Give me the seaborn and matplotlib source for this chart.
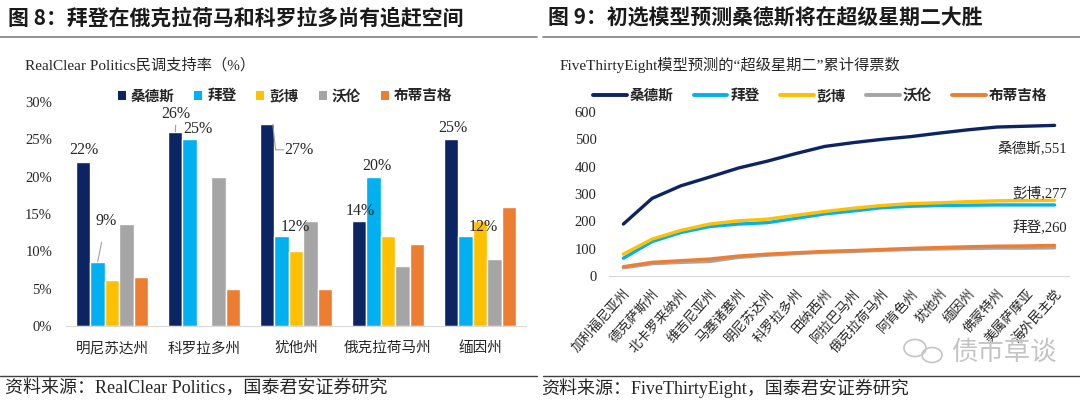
import numpy as np
import pandas as pd
import matplotlib
matplotlib.use('Agg')
import matplotlib.pyplot as plt
from matplotlib.lines import Line2D
from matplotlib.patches import Patch, Ellipse
import seaborn as sns

# ---- data: RealClear Politics polls (%) ----
poll_states = ['明尼苏达州', '科罗拉多州', '犹他州', '俄克拉荷马州', '缅因州']
candidates = ['桑德斯', '拜登', '彭博', '沃伦', '布蒂吉格']
sanders_poll = [22, 26, 27, 14, 25]
biden_poll = [8.6, 25, 12, 20, 12]
bloomberg_poll = [6.2, np.nan, 10, 12, 14]
warren_poll = [13.6, 20, 14, 8, 9]
buttigieg_poll = [6.6, 5, 5, 11, 16]

# ---- data: FiveThirtyEight cumulative delegates ----
vote_states = ['加利福尼亚州', '德克萨斯州', '北卡罗来纳州', '维吉尼亚州', '马塞诸塞州',
               '明尼苏达州', '科罗拉多州', '田纳西州', '阿拉巴马州', '俄克拉荷马州',
               '阿肯色州', '犹他州', '缅因州', '佛蒙特州', '美属萨摩亚', '海外民主党']
sanders_votes = [190, 284, 330, 362, 395, 420, 448, 474, 488, 500, 510, 523, 535, 545, 548, 551]
biden_votes = [65, 126, 159, 181, 190, 195, 211, 227, 238, 250, 255, 258, 259, 260, 260, 260]
bloomberg_votes = [80, 135, 167, 190, 202, 208, 222, 236, 248, 258, 265, 268, 272, 275, 276, 277]
warren_votes = [30, 45, 50, 53, 68, 76, 82, 87, 90, 94, 97, 99, 101, 102, 102, 103]
buttigieg_votes = [34, 50, 56, 62, 73, 80, 85, 90, 93, 97, 101, 104, 107, 109, 110, 112]

colors = ['#0c2461', '#00b0f0', '#ffc000', '#a5a5a5', '#ed7d31']

sns.set_style('white')
plt.rcParams['font.family'] = ['Liberation Serif', 'Noto Sans CJK SC']
CJK = ['Noto Sans CJK SC', 'DejaVu Sans']

poll = pd.DataFrame({'州': poll_states, '桑德斯': sanders_poll, '拜登': biden_poll,
                     '彭博': bloomberg_poll, '沃伦': warren_poll, '布蒂吉格': buttigieg_poll})
poll_long = poll.melt(id_vars='州', var_name='候选人', value_name='支持率').dropna()

votes = pd.DataFrame({'州': vote_states, '桑德斯': sanders_votes, '拜登': biden_votes,
                      '彭博': bloomberg_votes, '沃伦': warren_votes, '布蒂吉格': buttigieg_votes})
votes_long = votes.melt(id_vars='州', var_name='候选人', value_name='票数')

fig = plt.figure(figsize=(10.8, 4.05), dpi=100)

# ---------------- left: bar chart ----------------
ax1 = fig.add_axes([66 / 1080, 79 / 405, 460 / 1080, 224 / 405])
bar_w = 0.78
sns.barplot(data=poll_long, x='州', y='支持率', hue='候选人', order=poll_states,
            hue_order=candidates, palette=colors, width=bar_w, saturation=1,
            gap=0, legend=False, ax=ax1)
ax1.set_xlim(-0.5, 4.5)
ax1.set_ylim(0, 30)
ax1.set_yticks(range(0, 31, 5))
ax1.set_yticklabels([f'{v}%' for v in range(0, 31, 5)])
ax1.set_xlabel('')
ax1.set_ylabel('')
for s in ['top', 'left', 'right']:
    ax1.spines[s].set_visible(False)
ax1.spines['bottom'].set_color('#d9d9d9')
ax1.tick_params(axis='y', length=0, pad=10, labelsize=10.5)
ax1.tick_params(axis='x', length=0, pad=11)
for lab in ax1.get_xticklabels():
    lab.set_fontfamily(CJK)
    lab.set_fontsize(10.5)
    lab.set_color('#262626')

# data labels: (state idx, candidate idx, dx, dy, leader line)
label_specs = [(0, 0, 0.01, 1.6, False), (0, 1, 0.09, 5.4, True),
               (1, 0, 0.01, 2.4, True), (1, 1, 0.09, 1.4, False),
               (2, 0, 0.34, -3.4, True), (2, 1, 0.15, 1.2, False),
               (3, 0, 0.01, 1.4, False), (3, 1, 0.03, 1.4, False),
               (4, 0, 0.02, 1.5, False), (4, 1, 0.19, 1.2, False)]
series = [sanders_poll, biden_poll, bloomberg_poll, warren_poll, buttigieg_poll]
step = bar_w / len(candidates)
for i, j, dx, dy, leader in label_specs:
    v = series[j][i]
    bx = i - bar_w / 2 + step * (j + 0.5)
    txt = f'{round(v):.0f}%'
    if leader and dy > 0:
        ax1.annotate(txt, xy=(bx, v), xytext=(bx + dx, v + dy),
                     ha='center', va='center', fontsize=11.5, color='#262626',
                     arrowprops=dict(arrowstyle='-', color='#a0a0a0', lw=0.8,
                                     shrinkA=7, shrinkB=0),
                     annotation_clip=False)
    else:
        ax1.text(bx + dx, v + dy, txt, ha='center', va='center', fontsize=11.5,
                 color='#262626', clip_on=False)
        if leader:
            # elbow leader: down from the bar top, then across to the label
            ax1.plot([bx + 0.06, bx + 0.09, bx + dx - 0.16], [v, v + dy, v + dy],
                     color='#a0a0a0', lw=0.8, clip_on=False)

h1 = [Patch(facecolor=c, edgecolor='none') for c in colors]
ax1.legend(h1, candidates, ncol=5, loc='center', bbox_to_anchor=(0.476, 1.03),
           frameon=False, handlelength=0.55, handleheight=0.55, handletextpad=0.35,
           columnspacing=1.35, prop=dict(family=CJK, weight='bold', size=10.5))

# ---------------- right: line chart ----------------
ax2 = fig.add_axes([609 / 1080, 129 / 405, 460 / 1080, 164 / 405])
sns.lineplot(data=votes_long, x='州', y='票数', hue='候选人', hue_order=candidates,
             palette=colors, linewidth=2.4, sort=False, legend=False, ax=ax2)
ax2.set_xlim(-0.5, len(vote_states) - 0.5)
ax2.set_ylim(0, 600)
ax2.set_yticks(range(0, 601, 100))
ax2.set_xticks(range(len(vote_states)))
ax2.set_xticklabels(vote_states, rotation=48, ha='right', rotation_mode='anchor')
ax2.set_xlabel('')
ax2.set_ylabel('')
for s in ['top', 'left', 'right']:
    ax2.spines[s].set_visible(False)
ax2.spines['bottom'].set_color('#d9d9d9')
ax2.tick_params(axis='y', length=0, pad=9, labelsize=10.5)
ax2.tick_params(axis='x', length=0, pad=8)
for lab in ax2.get_xticklabels():
    lab.set_fontfamily(CJK)
    lab.set_fontsize(9.5)
    lab.set_color('#262626')

end_labels = [('桑德斯', sanders_votes, -83), ('彭博', bloomberg_votes, 27), ('拜登', biden_votes, -84)]
for name, vals, off in end_labels:
    ax2.text(15.43, vals[-1] + off, f'{name},{vals[-1]}', ha='right', va='center',
             fontsize=10.5, color='#262626',
             fontfamily=['Liberation Serif', 'Noto Sans CJK SC'])

h2 = [Line2D([0], [0], color=c, lw=2.8) for c in colors]
ax2.legend(h2, candidates, ncol=5, loc='center', bbox_to_anchor=(0.459, 1.104),
           frameon=False, handlelength=2.3, handletextpad=0.2, columnspacing=1.4,
           prop=dict(family=CJK, weight='bold', size=10.5))

# ---------------- titles, rules, sources ----------------
fig.text(8 / 1080, 1 - 18 / 405, '图 8：拜登在俄克拉荷马和科罗拉多尚有追赶空间',
         fontsize=15, fontweight='bold', fontfamily=CJK, va='center', color='#1a1a1a')
fig.text(548 / 1080, 1 - 18 / 405, '图 9：初选模型预测桑德斯将在超级星期二大胜',
         fontsize=15, fontweight='bold', fontfamily=CJK, va='center', color='#1a1a1a')
fig.text(25 / 1080, 1 - 65 / 405, 'RealClear Politics民调支持率（%）',
         fontsize=11, va='center', color='#262626')
fig.text(560 / 1080, 1 - 65 / 405, 'FiveThirtyEight模型预测的“超级星期二”累计得票数',
         fontsize=11, va='center', color='#262626')
fig.text(5 / 1080, 1 - 388 / 405, '资料来源：RealClear Politics，国泰君安证券研究',
         fontsize=13, va='center', color='#262626')
fig.text(541 / 1080, 1 - 388 / 405, '资料来源：FiveThirtyEight，国泰君安证券研究',
         fontsize=13, va='center', color='#262626')

for x0, x1 in [(0, 537), (543, 1080)]:
    fig.add_artist(Line2D([x0 / 1080, x1 / 1080], [1 - 37 / 405] * 2,
                          transform=fig.transFigure, color='#7f7f7f', lw=1.2))
    fig.add_artist(Line2D([x0 / 1080, x1 / 1080], [1 - 376 / 405] * 2,
                          transform=fig.transFigure, color='#404040', lw=1.0))

# watermark
fig.text(1004 / 1080, 1 - 352 / 405, '债市草谈', fontsize=19, fontfamily=CJK,
         color='#c4c4c4', ha='center', va='center')
fig.add_artist(Ellipse((915 / 1080, 1 - 348 / 405), 22 / 1080, 17 / 405,
                       transform=fig.transFigure, fill=False, ec='#c4c4c4', lw=1.2))
fig.add_artist(Ellipse((932 / 1080, 1 - 355 / 405), 20 / 1080, 15 / 405,
                       transform=fig.transFigure, fill=False, ec='#c4c4c4', lw=1.2))

fig.savefig('out.png', dpi=100)
